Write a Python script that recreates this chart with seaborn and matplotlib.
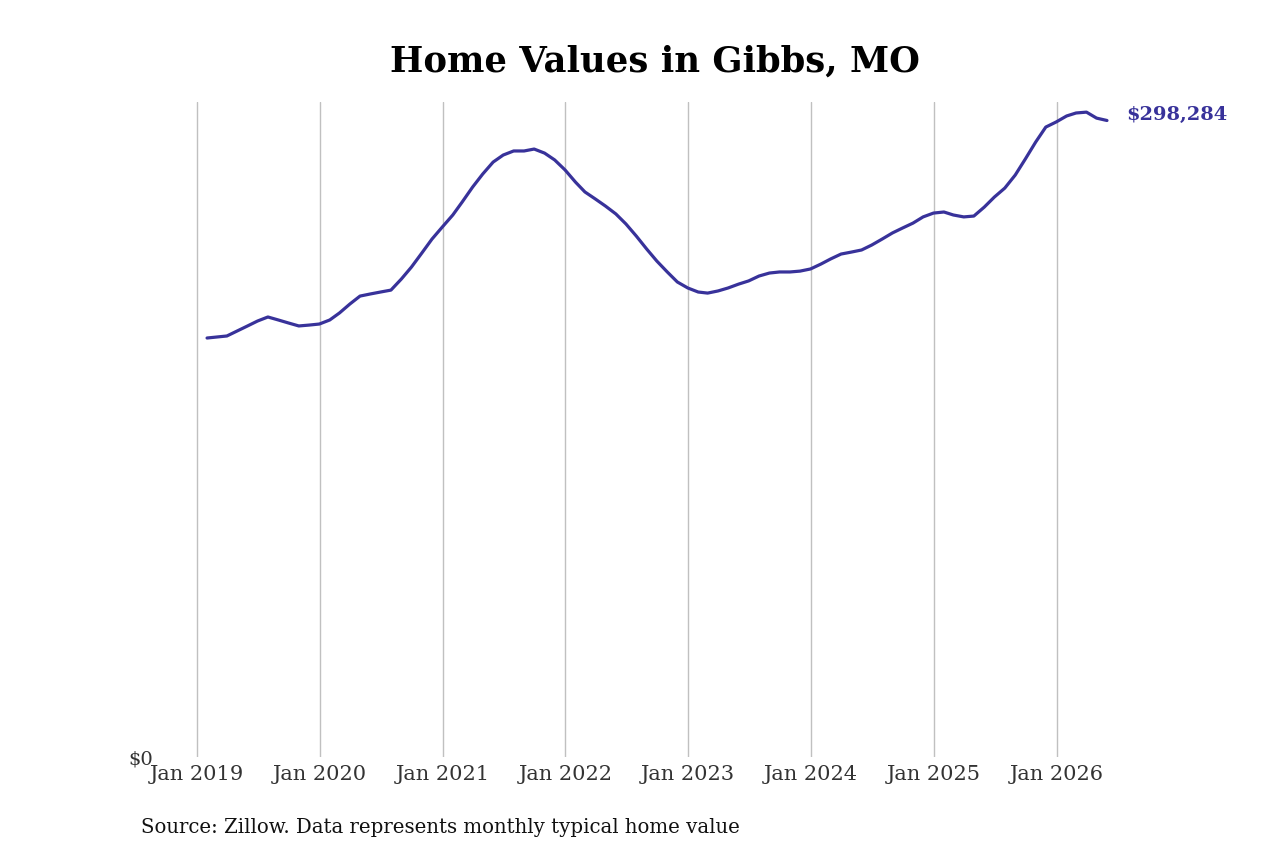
import matplotlib
matplotlib.use("Agg")
import matplotlib.pyplot as plt
import matplotlib.dates as mdates
import seaborn as sns
import pandas as pd
import numpy as np

# ---- data ----
start_month = "2019-01-31"
n_months = 89
home_values = [
    196350, 196800, 197300, 199600, 201970, 204300, 206200, 204800, 203400, 202000, 202400, 202900,
    204800, 208100, 212300, 216000, 217000, 217900, 218800, 224000, 229600, 236200, 242700, 248400,
    254000, 260100, 267100, 273200, 278800, 282100, 284000, 284000, 284900, 283000, 279800, 275100,
    269400, 264800, 261500, 258200, 254500, 249800, 244100, 238000, 232400, 227300, 222600, 219800,
    217900, 217400, 218400, 219800, 221600, 223100, 225400, 226800, 227300, 227300, 227700, 228700,
    231000, 233400, 235700, 236600, 237600, 239900, 242700, 245600, 247900, 250200, 253100, 254900,
    255400, 254000, 253100, 253500, 257700, 262400, 266600, 272700, 280200, 288200, 295200, 297600,
    300400, 301800, 302200, 299400, 298284,
]
title = "Home Values in Gibbs, MO"
source_note = "Source: Zillow. Data represents monthly typical home value"
year_ticks = ["2019-01-01", "2020-01-01", "2021-01-01", "2022-01-01", "2023-01-01",
              "2024-01-01", "2025-01-01", "2026-01-01"]
y_tick_values = [0]
y_tick_labels = ["$0"]

dates = pd.date_range(start_month, periods=n_months, freq="ME")
df = pd.DataFrame({"date": dates, "value": home_values})

line_color = "#38329a"

sns.set_theme(style="white")
plt.rcParams["font.family"] = ["DejaVu Serif"]

fig = plt.figure(figsize=(12.8, 8.53), dpi=100)
W, H = 1280, 853
ax_left, ax_right, ax_top, ax_bottom = 160, 1110, 103, 758
ax = fig.add_axes([ax_left / W, 1 - ax_bottom / H, (ax_right - ax_left) / W, (ax_bottom - ax_top) / H])

sns.lineplot(data=df, x="date", y="value", ax=ax, color=line_color, linewidth=2.3)

ax.set_xlim(pd.Timestamp("2018-09-13"), pd.Timestamp("2026-06-09"))
ax.set_ylim(0, 306950)

ax.set_xticks(pd.to_datetime(year_ticks))
ax.xaxis.set_major_formatter(mdates.DateFormatter("%b %Y"))
ax.set_yticks(y_tick_values)
ax.set_yticklabels(y_tick_labels)
ax.tick_params(axis="x", length=0, pad=5, labelsize=15, labelcolor="#333333")
ax.tick_params(axis="y", length=0, pad=5, labelsize=14, labelcolor="#333333")
ax.grid(axis="x", color="#c0c0c0", linewidth=1.0)
ax.grid(axis="y", visible=False)
for s in ax.spines.values():
    s.set_visible(False)
ax.set_xlabel("")
ax.set_ylabel("")

# end label
ax.annotate(f"${home_values[-1]:,}", xy=(df["date"].iloc[-1], home_values[-1]),
            xytext=(14, 5), textcoords="offset points", color=line_color,
            fontsize=14, fontweight="bold", va="center", ha="left",
            annotation_clip=False)

fig.text(655 / W, 1 - 62 / H, title, ha="center", va="center", fontsize=25.5, fontweight="bold", color="black")
fig.text(141 / W, 1 - 828 / H, source_note, ha="left", va="center", fontsize=14.2, color="#111111")

fig.savefig("out.png", dpi=100, facecolor="white")
